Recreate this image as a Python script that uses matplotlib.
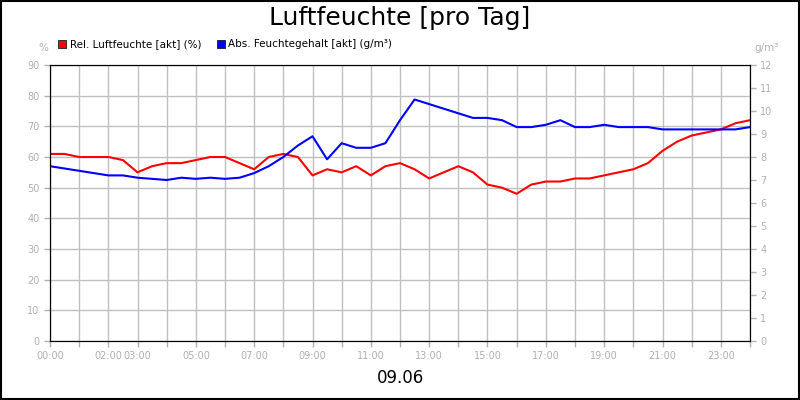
import matplotlib
matplotlib.use("Agg")
import matplotlib.pyplot as plt
import numpy as np

# Stunden (halbstündlich)
hours = np.arange(0, 24.5, 0.5)

# Rel. Luftfeuchte [%]
rel_hum = [61, 61, 60, 60, 60, 59, 55, 57, 58, 58, 59, 60, 60, 58, 56, 60, 61, 60,
           54, 56, 55, 57, 54, 57, 58, 56, 53, 55, 57, 55, 51, 50, 48, 51, 52, 52,
           53, 53, 54, 55, 56, 58, 62, 65, 67, 68, 69, 71, 72]

# Abs. Feuchtegehalt [g/m³]
abs_hum = [7.6, 7.5, 7.4, 7.3, 7.2, 7.2, 7.1, 7.05, 7.0, 7.1, 7.05, 7.1, 7.05, 7.1,
           7.3, 7.6, 8.0, 8.5, 8.9, 7.9, 8.6, 8.4, 8.4, 8.6, 9.6, 10.5, 10.3, 10.1,
           9.9, 9.7, 9.7, 9.6, 9.3, 9.3, 9.4, 9.6, 9.3, 9.3, 9.4, 9.3, 9.3, 9.3,
           9.2, 9.2, 9.2, 9.2, 9.2, 9.2, 9.3]

tick_hours = list(range(25))
label_hours = [0, 2, 3, 5, 7, 9, 11, 13, 15, 17, 19, 21, 23]
tick_labels = [f"{h:02d}:00" if h in label_hours else "" for h in tick_hours]

gray = "#b0b0b0"
fig = plt.figure(figsize=(8, 4), dpi=100)
ax = fig.add_axes([0.0625, 0.1475, 0.875, 0.69])
ax.set_xlim(0, 24)
ax.set_ylim(0, 90)
ax.set_yticks(range(0, 91, 10))
ax.set_xticks(tick_hours)
ax.set_xticklabels(tick_labels)
ax.grid(True, color="#c0c0c0", linewidth=1)
ax.tick_params(colors=gray, labelcolor=gray, labelsize=7, length=4, width=1)
ax.plot(hours, rel_hum, color="#ff0000", linewidth=1.5)

ax2 = ax.twinx()
ax2.set_ylim(0, 12)
ax2.set_yticks(range(13))
ax2.tick_params(colors=gray, labelcolor=gray, labelsize=7, length=4, width=1)
ax2.plot(hours, abs_hum, color="#0000ff", linewidth=1.5)
for a in (ax, ax2):
    for s in a.spines.values():
        s.set_color("black")

fig.text(0.5, 0.955, "Luftfeuchte [pro Tag]", ha="center", va="center", fontsize=18)
fig.text(0.5, 0.055, "09.06", ha="center", va="center", fontsize=12)
fig.text(0.054, 0.88, "%", ha="center", va="center", fontsize=7.5, color=gray)
fig.text(0.958, 0.88, "g/m³", ha="center", va="center", fontsize=7.5, color=gray)

# Legende
fig.patches.append(plt.Rectangle((0.073, 0.881), 0.01, 0.02, transform=fig.transFigure,
                                 facecolor="#ff0000", edgecolor="black", linewidth=0.5))
fig.text(0.087, 0.891, "Rel. Luftfeuchte [akt] (%)", va="center", fontsize=7.5)
fig.patches.append(plt.Rectangle((0.271, 0.881), 0.01, 0.02, transform=fig.transFigure,
                                 facecolor="#0000ff", edgecolor="black", linewidth=0.5))
fig.text(0.285, 0.891, "Abs. Feuchtegehalt [akt] (g/m³)", va="center", fontsize=7.5)

fig.patches.append(plt.Rectangle((0.001, 0.002), 0.998, 0.996, transform=fig.transFigure,
                                 fill=False, edgecolor="black", linewidth=1.5))
fig.savefig("out.png", dpi=100)
